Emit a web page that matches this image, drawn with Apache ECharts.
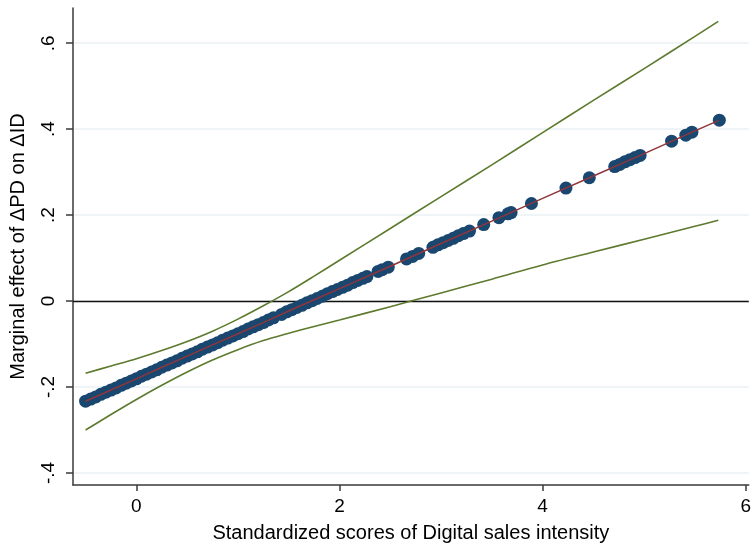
<!DOCTYPE html>
<html>
<head>
<meta charset="utf-8">
<script src="https://cdn.jsdelivr.net/npm/echarts@6/dist/echarts.min.js"></script>
<style>html,body{margin:0;padding:0;background:#fff}#c{width:754px;height:548px}</style>
</head>
<body>
<div id="c"></div>
<script>
// Observation points (x = standardized score, y = marginal effect)
var pointX = [-0.50,-0.45,-0.40,-0.35,-0.30,-0.25,-0.20,-0.15,-0.10,-0.05,0.00,0.05,0.10,0.15,0.20,0.25,0.30,0.35,0.40,0.45,0.50,0.55,0.60,0.65,0.70,0.75,0.80,0.85,0.90,0.95,1.00,1.05,1.10,1.15,1.20,1.25,1.30,1.35,1.43,1.48,1.53,1.58,1.63,1.68,1.73,1.78,1.83,1.88,1.93,1.98,2.03,2.08,2.13,2.18,2.23,2.27,2.38,2.42,2.48,2.66,2.72,2.78,2.92,2.97,3.02,3.07,3.12,3.17,3.22,3.28,3.42,3.57,3.66,3.69,3.89,4.23,4.46,4.71,4.76,4.81,4.86,4.91,4.96,5.27,5.41,5.47,5.74];
var pointY = [-0.233,-0.228,-0.223,-0.217,-0.212,-0.207,-0.202,-0.196,-0.191,-0.186,-0.181,-0.175,-0.170,-0.165,-0.160,-0.154,-0.149,-0.144,-0.139,-0.133,-0.128,-0.123,-0.118,-0.112,-0.107,-0.102,-0.097,-0.091,-0.086,-0.081,-0.076,-0.071,-0.065,-0.060,-0.055,-0.050,-0.044,-0.039,-0.031,-0.025,-0.020,-0.015,-0.010,-0.004,0.001,0.006,0.011,0.017,0.022,0.027,0.032,0.037,0.043,0.048,0.053,0.057,0.069,0.073,0.079,0.098,0.104,0.111,0.125,0.131,0.136,0.141,0.146,0.152,0.157,0.163,0.178,0.194,0.203,0.206,0.227,0.263,0.287,0.313,0.318,0.324,0.329,0.334,0.339,0.372,0.386,0.393,0.421];

// Marginal effect line and confidence bands
var curveX = [-0.50,-0.25,0.00,0.25,0.50,0.75,1.00,1.25,1.50,1.75,2.00,2.50,3.00,3.50,4.00,4.50,5.00,5.50,5.73];
var effect = [-0.233,-0.207,-0.181,-0.154,-0.128,-0.102,-0.076,-0.050,-0.023,0.003,0.029,0.081,0.134,0.186,0.239,0.291,0.343,0.396,0.420];
var upper  = [-0.168,-0.151,-0.134,-0.115,-0.094,-0.070,-0.042,-0.011,0.022,0.058,0.095,0.169,0.243,0.317,0.392,0.467,0.541,0.616,0.651];
var lower  = [-0.300,-0.264,-0.229,-0.196,-0.165,-0.137,-0.113,-0.092,-0.075,-0.059,-0.044,-0.013,0.019,0.051,0.084,0.114,0.144,0.174,0.188];

var xTicks = [0, 2, 4, 6];
var yTicks = [-0.4, -0.2, 0, 0.2, 0.4, 0.6];

function pairs(xs, ys){ return xs.map(function(x,i){ return [x, ys[i]]; }); }
function fmtY(v){
  var s = (Math.round(v*10)/10).toString();
  if (s === '0') return '0';
  return s.replace('0.', '.');
}

var font = 'Liberation Sans, Arial, Helvetica, sans-serif';
var chart = echarts.init(document.getElementById('c'), null, {renderer:'canvas'});
chart.setOption({
  animation: false,
  backgroundColor: '#fff',
  grid: {left: 71, right: 0, top: 8, bottom: 63, containLabel: false},
  xAxis: {
    type: 'value', min: -0.624, max: 6.03,
    name: 'Standardized scores of Digital sales intensity',
    nameLocation: 'middle', nameGap: 38,
    nameTextStyle: {fontFamily: font, fontSize: 20, color: '#000'},
    axisLine: {show: true, onZero: false, lineStyle: {color: '#3a3a3a', width: 1.5}},
    axisTick: {show: true, length: 6, customValues: xTicks, lineStyle: {color: '#3a3a3a', width: 1.5}},
    axisLabel: {customValues: xTicks, margin: 12, fontFamily: font, fontSize: 19, color: '#000',
      formatter: function(v){ return String(v); }},
    splitLine: {show: false}
  },
  yAxis: {
    type: 'value', min: -0.428, max: 0.682,
    name: 'Marginal effect of \u0394PD on \u0394ID',
    nameLocation: 'middle', nameGap: 45, nameRotate: 90,
    nameTextStyle: {fontFamily: font, fontSize: 20, color: '#000'},
    axisLine: {show: true, onZero: false, lineStyle: {color: '#3a3a3a', width: 1.5}},
    axisTick: {show: true, length: 7, customValues: yTicks, lineStyle: {color: '#3a3a3a', width: 1.5}},
    axisLabel: {customValues: yTicks, rotate: 90, margin: 15, fontFamily: font, fontSize: 19, color: '#000',
      formatter: fmtY},
    splitLine: {show: true, lineStyle: {color: '#eaf2f3', width: 1.5}}
  },
  series: [
    {
      type: 'line', data: [], silent: true, z: 2,
      markLine: {
        silent: true, symbol: ['none','none'], label: {show: false}, animation: false,
        data: [{yAxis: 0, lineStyle: {color: '#111', width: 1.3, type: 'solid'}}]
      }
    },
    {
      type: 'line', data: pairs(curveX, upper), smooth: 0.3, showSymbol: false, z: 10,
      lineStyle: {color: '#5d7a2e', width: 1.6}
    },
    {
      type: 'line', data: pairs(curveX, lower), smooth: 0.3, showSymbol: false, z: 10,
      lineStyle: {color: '#5d7a2e', width: 1.6}
    },
    {
      type: 'scatter', data: pairs(pointX, pointY), symbolSize: 13, z: 11,
      itemStyle: {color: '#1a476f', opacity: 1}
    },
    {
      type: 'line', data: pairs(curveX, effect), showSymbol: false, z: 12,
      lineStyle: {color: '#90353b', width: 1.5}
    }
  ]
});
</script>
</body>
</html>
